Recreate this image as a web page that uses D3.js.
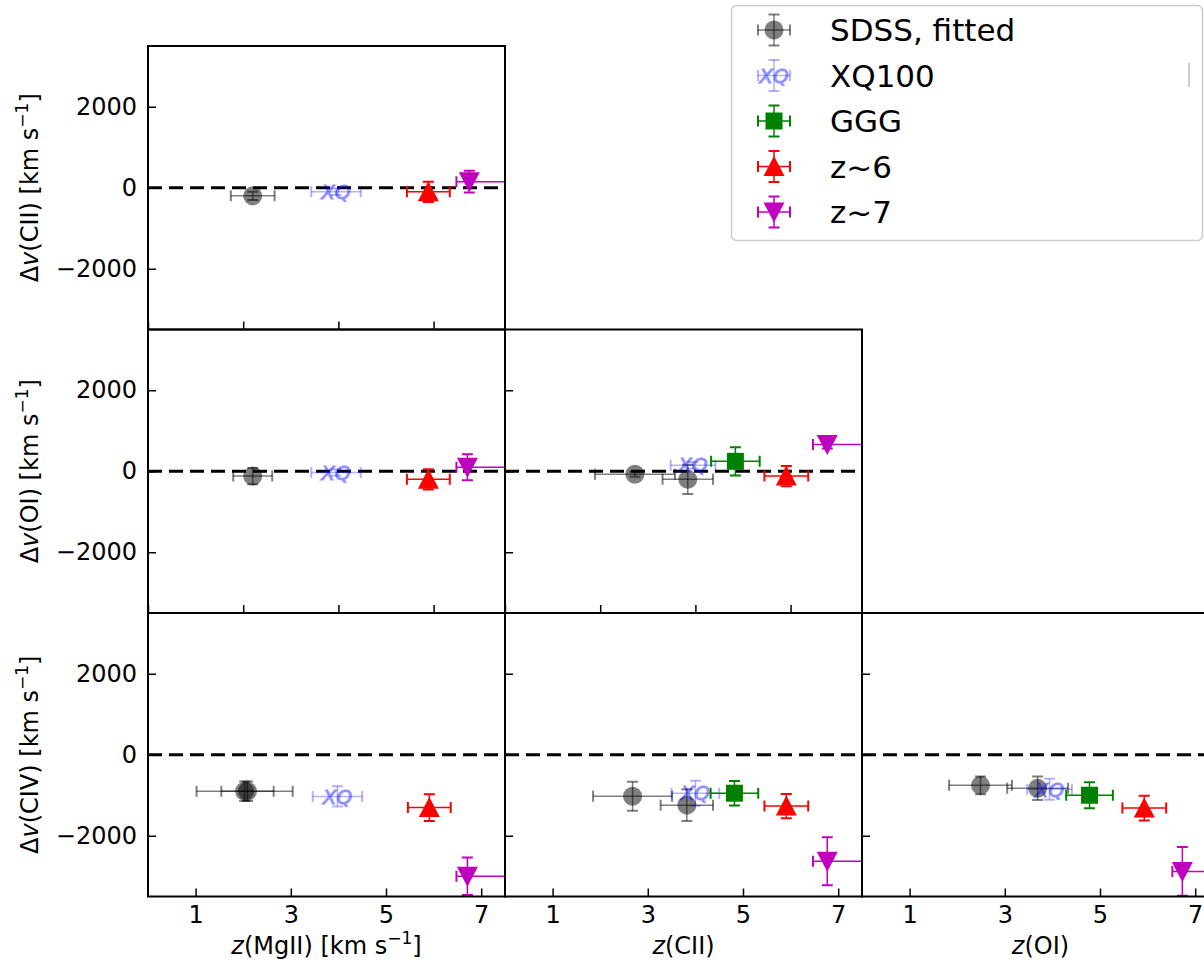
<!DOCTYPE html>
<html>
<head>
<meta charset="utf-8">
<script src="https://cdn.jsdelivr.net/npm/d3@7"></script>
<style>
  body { margin: 0; background: #fff; }
  svg { display: block; font-family: "DejaVu Sans", sans-serif; }
</style>
</head>
<body>
<div id="vis-container"></div>
<script>
// series and their values
const seriesNames = ["SDSS, fitted", "XQ100", "GGG", "z~6", "z~7"];
const rowLines = ["CII", "OI", "CIV"];
const colLines = ["MgII", "CII", "OI"];
const yTicks = [-2000, 0, 2000];
const xTicksInner = [0, 2, 4, 6];
const xTicksBottom = [1, 3, 5, 7];
const xDomain = [0, 7.5];
const yDomain = [-3500, 3500];

// [series, z, dv, xerr-, xerr+, yerr]
const dvCII_zMgII = [
    ["SDSS, fitted", 2.2, -200, 0.46, 0.46, 100],
    ["XQ100", 3.95, -100, 0.52, 0.52, 80],
    ["z~6", 5.89, -100, 0.45, 0.45, 250],
    ["z~7", 6.75, 150, 0.27, 1.5, 270]
];
const dvOI_zMgII = [
    ["SDSS, fitted", 2.2, -120, 0.41, 0.41, 200],
    ["XQ100", 3.95, -30, 0.52, 0.52, 80],
    ["z~6", 5.89, -200, 0.45, 0.45, 250],
    ["z~7", 6.71, 100, 0.23, 1.5, 320]
];
const dvOI_zCII = [
    ["SDSS, fitted", 2.73, -74, 0.84, 0.84, 60],
    ["SDSS, fitted", 3.84, -200, 0.53, 0.53, 360],
    ["XQ100", 3.95, 150, 0.47, 0.47, 80],
    ["GGG", 4.84, 245, 0.51, 0.51, 350],
    ["z~6", 5.91, -120, 0.46, 0.46, 250],
    ["z~7", 6.77, 660, 0.3, 1.5, 100]
];
const dvCIV_zMgII = [
    ["SDSS, fitted", 2.03, -900, 1.01, 1.01, 240],
    ["SDSS, fitted", 2.09, -900, 0.55, 0.55, 240],
    ["XQ100", 3.98, -1030, 0.52, 0.52, 250],
    ["z~6", 5.91, -1305, 0.45, 0.45, 330],
    ["z~7", 6.71, -3000, 0.23, 1.5, 460]
];
const dvCIV_zCII = [
    ["SDSS, fitted", 2.68, -1024, 0.83, 0.83, 360],
    ["SDSS, fitted", 3.82, -1244, 0.55, 0.55, 390],
    ["XQ100", 4.0, -950, 0.5, 0.5, 310],
    ["GGG", 4.82, -950, 0.5, 0.5, 300],
    ["z~6", 5.91, -1268, 0.46, 0.46, 300],
    ["z~7", 6.77, -2630, 0.3, 1.5, 590]
];
const dvCIV_zOI = [
    ["SDSS, fitted", 2.49, -756, 0.66, 0.66, 220],
    ["SDSS, fitted", 3.69, -830, 0.64, 0.64, 290],
    ["XQ100", 3.94, -854, 0.47, 0.47, 260],
    ["GGG", 4.78, -1000, 0.49, 0.49, 320],
    ["z~6", 5.93, -1317, 0.46, 0.46, 305],
    ["z~7", 6.73, -2880, 0.21, 1.5, 600]
];

const panels = [
    {row: 0, col: 0, data: dvCII_zMgII},
    {row: 1, col: 0, data: dvOI_zMgII},
    {row: 1, col: 1, data: dvOI_zCII},
    {row: 2, col: 0, data: dvCIV_zMgII},
    {row: 2, col: 1, data: dvCIV_zCII},
    {row: 2, col: 2, data: dvCIV_zOI}
];

// styles
const style = {
    "SDSS, fitted": {color: "#000", alpha: 0.5, shape: "circle"},
    "XQ100": {color: "#0000ff", alpha: 0.3, shape: "xq"},
    "GGG": {color: "#008000", alpha: 1, shape: "square"},
    "z~6": {color: "#ff0000", alpha: 1, shape: "up"},
    "z~7": {color: "#bf00bf", alpha: 1, shape: "down"}
};

const W = 1204, H = 970;
const left0 = 148, top0 = 46, panelW = 357, panelH = 283.5;
const capHalf = 5.5;

const svg = d3.select("#vis-container")
    .append("svg")
    .attr("width", W)
    .attr("height", H);

const x = d3.scaleLinear().domain(xDomain).range([0, panelW]);
const y = d3.scaleLinear().domain(yDomain).range([panelH, 0]);

let drawMarker = function(g, name, cx, cy){
    let s = style[name];
    if(s.shape === "circle"){
        g.append("circle").attr("cx", cx).attr("cy", cy).attr("r", 9.5)
            .attr("fill", s.color).attr("fill-opacity", s.alpha);
    } else if(s.shape === "square"){
        g.append("rect").attr("x", cx - 8.5).attr("y", cy - 8.5)
            .attr("width", 17).attr("height", 17).attr("fill", s.color);
    } else if(s.shape === "up"){
        g.append("path").attr("fill", s.color)
            .attr("d", `M${cx},${cy - 10.5}L${cx + 10.5},${cy + 9.5}L${cx - 10.5},${cy + 9.5}Z`);
    } else if(s.shape === "down"){
        g.append("path").attr("fill", s.color)
            .attr("d", `M${cx},${cy + 10.5}L${cx + 10.5},${cy - 9.5}L${cx - 10.5},${cy - 9.5}Z`);
    } else {
        g.append("text").attr("x", cx).attr("y", cy).attr("dy", "0.36em")
            .attr("text-anchor", "middle")
            .attr("font-size", 20).attr("font-style", "italic")
            .attr("fill", s.color).attr("fill-opacity", s.alpha)
            .attr("stroke", s.color).attr("stroke-opacity", s.alpha).attr("stroke-width", 1.4)
            .text("XQ");
    }
}

let drawErrorbar = function(g, name, cx, cy, x0, x1, y0, y1){
    let s = style[name];
    let lines = [
        [x0, cy, x1, cy, 1.5], [cx, y0, cx, y1, 1.5],
        [x0, cy - capHalf, x0, cy + capHalf, 2], [x1, cy - capHalf, x1, cy + capHalf, 2],
        [cx - capHalf, y0, cx + capHalf, y0, 2], [cx - capHalf, y1, cx + capHalf, y1, 2]
    ];
    lines.forEach(l => {
        g.append("line")
            .attr("x1", l[0]).attr("y1", l[1]).attr("x2", l[2]).attr("y2", l[3])
            .attr("stroke", s.color).attr("stroke-opacity", s.alpha)
            .attr("stroke-width", l[4]);
    });
}

panels.forEach((p, i) => {
    let g = svg.append("g")
        .attr("transform", `translate(${left0 + p.col * panelW},${top0 + p.row * panelH})`);

    g.append("clipPath").attr("id", "clip" + i)
        .append("rect").attr("width", panelW).attr("height", panelH);

    // zero line
    g.append("line")
        .attr("x1", 0).attr("x2", panelW)
        .attr("y1", y(0)).attr("y2", y(0))
        .attr("stroke", "#000").attr("stroke-width", 3.2)
        .attr("stroke-dasharray", "14,7");

    let marks = g.append("g").attr("clip-path", `url(#clip${i})`);
    p.data.forEach(d => {
        let cx = x(d[1]), cy = y(d[2]);
        drawErrorbar(marks, d[0], cx, cy, x(d[1] - d[3]), x(d[1] + d[4]), y(d[2] - d[5]), y(d[2] + d[5]));
    });
    p.data.forEach(d => drawMarker(marks, d[0], x(d[1]), y(d[2])));

    // axes with inward ticks
    let yAxis = g.append("g")
        .call(d3.axisLeft(y).tickValues(yTicks).tickSize(-8).tickSizeOuter(0).tickPadding(11)
            .tickFormat(p.col === 0 ? d3.format("d") : ""));
    let bottom = p.row === 2;
    let xAxis = g.append("g")
        .attr("transform", `translate(0,${panelH})`)
        .call(d3.axisBottom(x).tickValues(bottom ? xTicksBottom : xTicksInner)
            .tickSize(-8).tickSizeOuter(0).tickPadding(9)
            .tickFormat(bottom ? d3.format("d") : ""));
    [yAxis, xAxis].forEach(a => {
        a.select(".domain").remove();
        a.selectAll("line").attr("stroke-width", 1.5);
        a.selectAll("text").attr("font-size", 24).attr("fill", "#000")
            .attr("font-family", "DejaVu Sans");
    });

    g.append("rect")
        .attr("width", panelW).attr("height", panelH)
        .attr("fill", "none").attr("stroke", "#000").attr("stroke-width", 2);
});

// y labels
rowLines.forEach((name, r) => {
    let t = svg.append("text")
        .attr("transform", `translate(38,${top0 + (r + 0.5) * panelH}) rotate(-90)`)
        .attr("text-anchor", "middle")
        .attr("font-size", 24);
    t.append("tspan").text("Δ");
    t.append("tspan").attr("font-style", "italic").text("v");
    t.append("tspan").text(`(${name}) [km s`);
    t.append("tspan").attr("font-size", 17).attr("dy", -10).text("−1");
    t.append("tspan").attr("dy", 10).text("]");
});

// x labels
colLines.forEach((name, c) => {
    let t = svg.append("text")
        .attr("x", left0 + (c + 0.5) * panelW)
        .attr("y", 954)
        .attr("text-anchor", "middle")
        .attr("font-size", 24);
    t.append("tspan").attr("font-style", "italic").text("z");
    t.append("tspan").text(`(${name})`);
    if(c === 0){
        t.append("tspan").text(" [km s");
        t.append("tspan").attr("font-size", 17).attr("dy", -10).text("−1");
        t.append("tspan").attr("dy", 10).text("]");
    }
});

// legend
let legend = svg.append("g").attr("transform", "translate(731,5)");
legend.append("rect")
    .attr("x", 0.5).attr("y", 0.5)
    .attr("width", 471).attr("height", 235)
    .attr("rx", 5)
    .attr("fill", "#fff").attr("stroke", "#ccc").attr("stroke-width", 1.5);
seriesNames.forEach((name, i) => {
    let cy = 25 + i * 45.5, cx = 43;
    let item = legend.append("g");
    drawErrorbar(item, name, cx, cy, cx - 16, cx + 16, cy + 15.5, cy - 15.5);
    drawMarker(item, name, cx, cy);
    item.append("text")
        .attr("x", 99).attr("y", cy).attr("dy", "0.36em")
        .attr("font-size", 31).attr("fill", "#000")
        .text(name);
});
legend.append("line")
    .attr("x1", 458).attr("x2", 458).attr("y1", 58).attr("y2", 82)
    .attr("stroke", "#bbb").attr("stroke-width", 1.5);
</script>
</body>
</html>
